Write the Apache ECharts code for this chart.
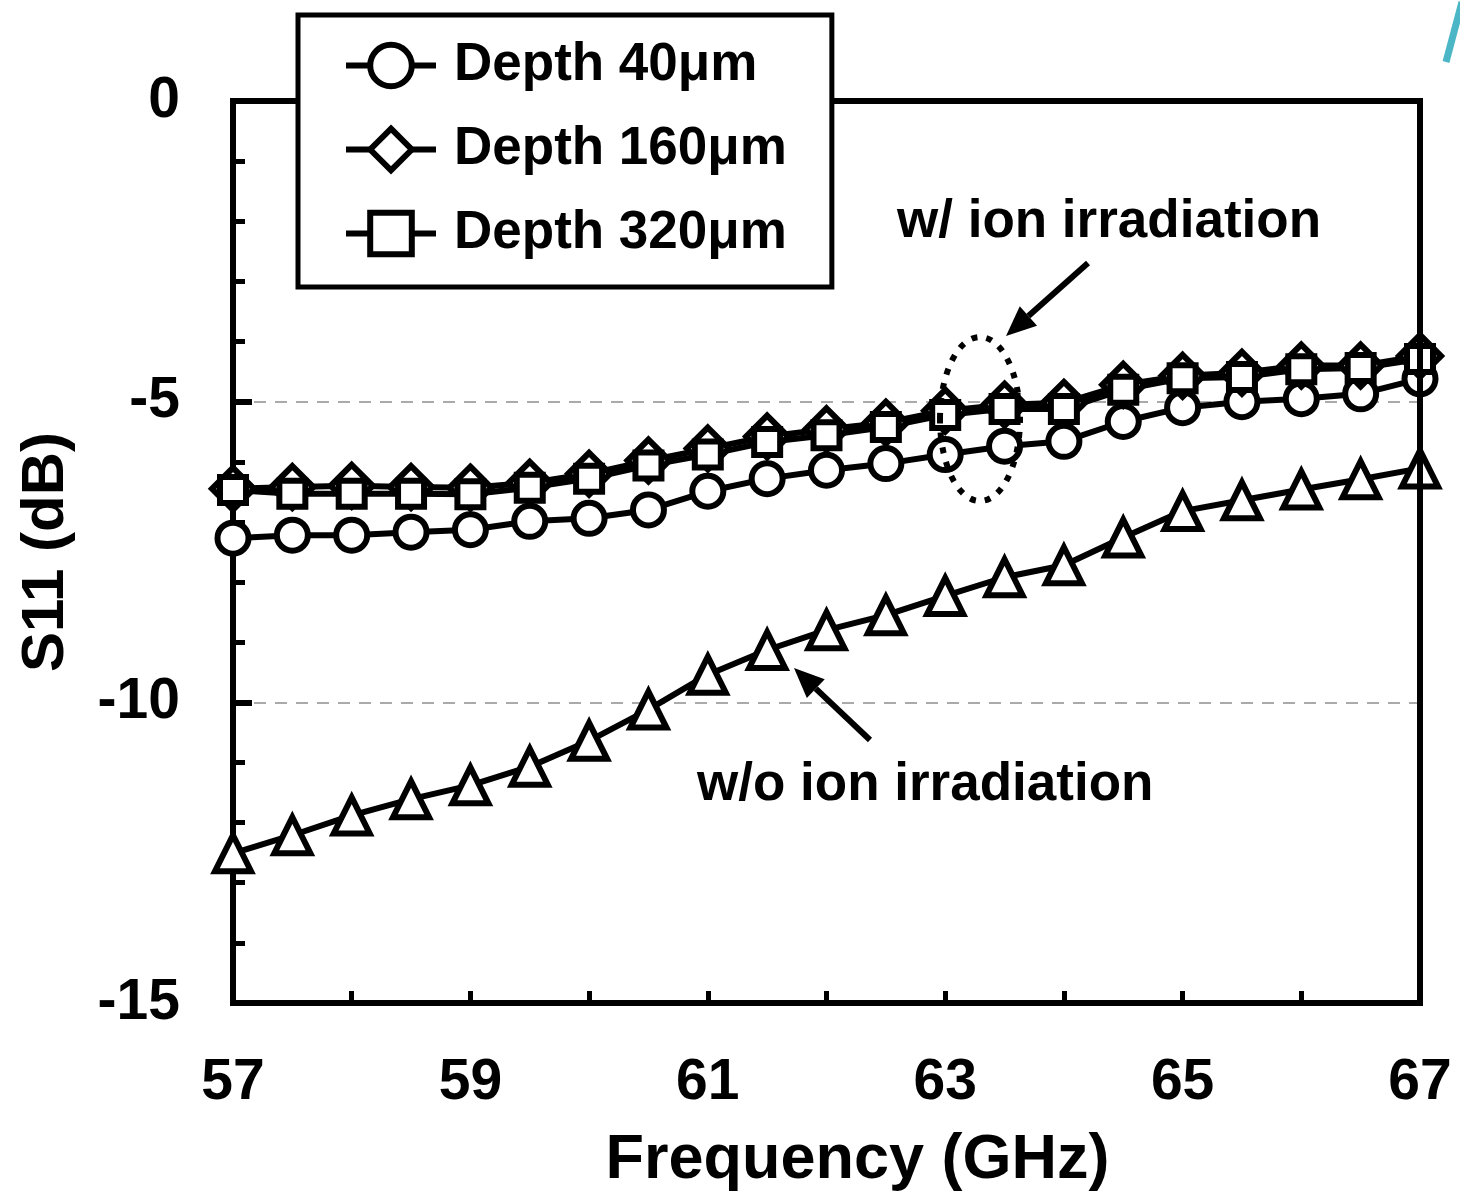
<!DOCTYPE html>
<html>
<head>
<meta charset="utf-8">
<script src="https://cdn.jsdelivr.net/npm/echarts@6/dist/echarts.min.js"></script>
<style>
html, body { margin: 0; padding: 0; background: #fff; }
#chart { width: 1460px; height: 1191px; }
</style>
</head>
<body>
<div id="chart"></div>
<script>
// frequency points (GHz)
var freq = [57, 57.5, 58, 58.5, 59, 59.5, 60, 60.5, 61, 61.5, 62, 62.5, 63, 63.5, 64, 64.5, 65, 65.5, 66, 66.5, 67];

// S11 (dB), with ion irradiation
var depth40 = [-7.27, -7.22, -7.22, -7.17, -7.13, -6.99, -6.94, -6.80, -6.49, -6.28, -6.14, -6.03, -5.88, -5.74, -5.66, -5.33, -5.10, -5.00, -4.95, -4.87, -4.62];
var depth160 = [-6.45, -6.42, -6.40, -6.42, -6.43, -6.35, -6.20, -5.98, -5.78, -5.58, -5.46, -5.35, -5.15, -5.05, -5.02, -4.72, -4.57, -4.52, -4.40, -4.40, -4.24];
var depth320 = [-6.47, -6.53, -6.53, -6.53, -6.54, -6.43, -6.28, -6.06, -5.88, -5.67, -5.56, -5.42, -5.22, -5.12, -5.12, -4.80, -4.61, -4.59, -4.46, -4.44, -4.29];
// without ion irradiation
var noIon = [-12.51, -12.21, -11.88, -11.61, -11.38, -11.07, -10.64, -10.12, -9.54, -9.13, -8.80, -8.55, -8.23, -7.92, -7.72, -7.26, -6.82, -6.64, -6.46, -6.29, -6.11];

var xLabels = [57, 59, 61, 63, 65, 67];

var FONT = "'Liberation Sans', Arial, sans-serif";

function pairs(ys) {
    var out = [];
    for (let i = 0; i < freq.length; i++) {
        out.push([freq[i], ys[i]]);
    }
    return out;
}

function makeSeries(name, ys, symbol, size) {
    return {
        name: name,
        type: 'line',
        data: pairs(ys),
        symbol: symbol,
        symbolSize: size,
        showAllSymbol: true,
        lineStyle: { color: '#000', width: 6 },
        itemStyle: { color: '#fff', borderColor: '#000', borderWidth: 6 },
        emphasis: { disabled: true },
        animation: false,
        z: 2
    };
}

// arrow drawn as line + filled head, from (x1,y1) pointing to (x2,y2)
function arrow(x1, y1, x2, y2) {
    var ang = Math.atan2(y2 - y1, x2 - x1);
    var len = 30, half = 13;
    var bx = x2 - len * Math.cos(ang), by = y2 - len * Math.sin(ang);
    var px = -Math.sin(ang) * half, py = Math.cos(ang) * half;
    return [{
        type: 'line',
        shape: { x1: x1, y1: y1, x2: bx, y2: by },
        style: { stroke: '#000', lineWidth: 6 },
        z: 10
    }, {
        type: 'polygon',
        shape: { points: [[x2, y2], [bx + px, by + py], [bx - px, by - py]] },
        style: { fill: '#000' },
        z: 10
    }];
}

var myChart = echarts.init(document.getElementById('chart'));

var chart_option = {
    backgroundColor: '#fff',
    animation: false,
    grid: { left: 233, right: 40, top: 101, bottom: 188, outerBoundsMode: 'none', containLabel: false },
    legend: {
        orient: 'vertical',
        left: 298,
        top: 15,
        padding: [24, 45, 27, 45],
        itemWidth: 90,
        itemHeight: 52,
        itemGap: 31,
        backgroundColor: '#fff',
        borderColor: '#000',
        borderWidth: 5,
        selectedMode: false,
        data: ['Depth 40μm', 'Depth 160μm', 'Depth 320μm'],
        itemStyle: { color: '#fff', borderColor: '#000', borderWidth: 6 },
        lineStyle: { color: '#000', width: 6 },
        textStyle: {
            color: '#000',
            fontFamily: FONT,
            fontWeight: 'bold',
            fontSize: 53,
            padding: [0, 0, 0, 13]
        },
        z: 6
    },
    xAxis: [{
        type: 'value',
        min: 57,
        max: 67,
        interval: 1,
        name: 'Frequency (GHz)',
        nameLocation: 'middle',
        nameGap: 126,
        nameTextStyle: { color: '#000', fontFamily: FONT, fontWeight: 'bold', fontSize: 63, padding: [0, 0, 0, 62] },
        axisLine: { onZero: false, lineStyle: { color: '#000', width: 6, cap: 'square' } },
        axisTick: { inside: true, length: 12, lineStyle: { color: '#000', width: 5 } },
        axisLabel: {
            margin: 52,
            color: '#000',
            fontFamily: FONT,
            fontWeight: 'bold',
            fontSize: 57,
            formatter: function(v) { return xLabels.indexOf(v) >= 0 ? String(v) : ''; }
        },
        splitLine: { show: false },
        z: 3
    }, {
        type: 'value',
        position: 'top',
        min: 57,
        max: 67,
        axisLine: { onZero: false, lineStyle: { color: '#000', width: 6, cap: 'square' } },
        axisTick: { show: false },
        axisLabel: { show: false },
        splitLine: { show: false },
        z: 3
    }],
    yAxis: [{
        type: 'value',
        min: -15,
        max: 0,
        interval: 5,
        name: 'S11 (dB)',
        nameLocation: 'middle',
        nameRotate: 90,
        nameGap: 157,
        nameTextStyle: { color: '#000', fontFamily: FONT, fontWeight: 'bold', fontSize: 60 },
        axisLine: { show: true, onZero: false, lineStyle: { color: '#000', width: 6, cap: 'square' } },
        axisTick: { show: true, inside: true, length: 19, lineStyle: { color: '#000', width: 6 } },
        minorTick: { show: true, splitNumber: 5, length: 12, lineStyle: { color: '#000', width: 5 } },
        axisLabel: { margin: 53, color: '#000', fontFamily: FONT, fontWeight: 'bold', fontSize: 57 },
        splitLine: { show: true, lineStyle: { color: '#aaa', width: 2, type: [12, 9] } }
    }, {
        type: 'value',
        position: 'right',
        min: -15,
        max: 0,
        axisLine: { show: true, onZero: false, lineStyle: { color: '#000', width: 6, cap: 'square' } },
        axisTick: { show: false },
        axisLabel: { show: false },
        splitLine: { show: false },
        z: 3
    }],
    series: [
        makeSeries('Depth 40μm', depth40, 'circle', 31),
        makeSeries('Depth 160μm', depth160, 'diamond', 42),
        makeSeries('Depth 320μm', depth320, 'rect', 26),
        makeSeries('w/o ion irradiation', noIon, 'triangle', 36)
    ],
    graphic: [].concat(
        [{
            type: 'ellipse',
            shape: { cx: 980, cy: 419, rx: 40, ry: 82 },
            style: { fill: 'none', stroke: '#000', lineWidth: 6, lineDash: [6, 9] },
            z: 10
        }, {
            type: 'text',
            left: 897,
            top: 196,
            style: { text: 'w/ ion irradiation', fill: '#000', font: 'bold 53px ' + FONT },
            z: 10
        }, {
            type: 'text',
            left: 697,
            top: 759,
            style: { text: 'w/o ion irradiation', fill: '#000', font: 'bold 53px ' + FONT },
            z: 10
        }, {
            type: 'line',
            shape: { x1: 1446, y1: 62, x2: 1462, y2: 2 },
            style: { stroke: '#4bb6c6', lineWidth: 7 },
            z: 10
        }],
        arrow(1088, 263, 1006, 336),
        arrow(870, 740, 794, 668)
    )
};

myChart.setOption(chart_option);
</script>
</body>
</html>
